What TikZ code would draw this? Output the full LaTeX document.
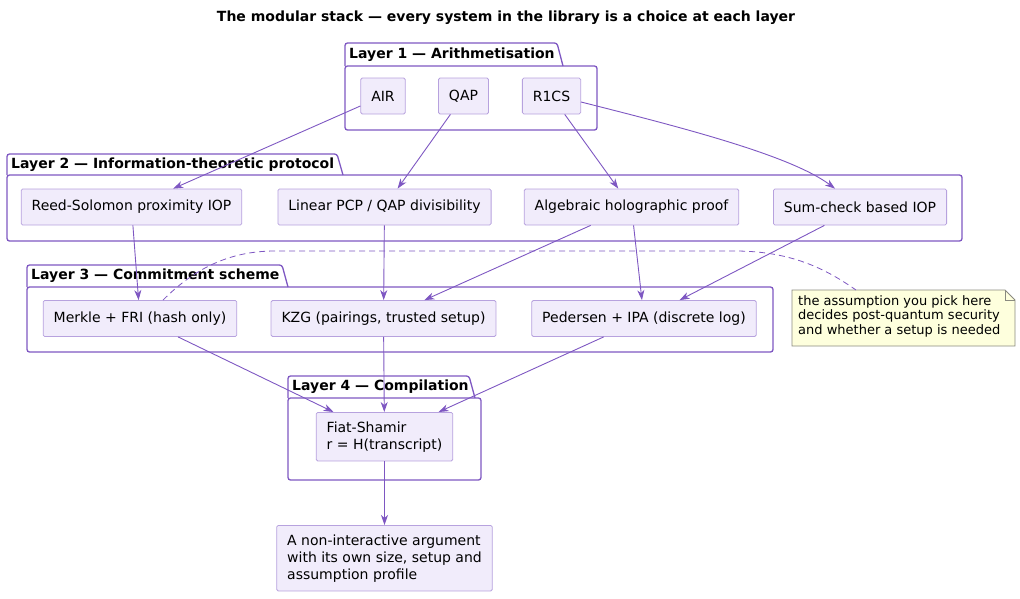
\documentclass[tikz,border=0pt]{standalone}
\usepackage{fontspec}
\setmainfont{DejaVu Sans}
\usetikzlibrary{arrows.meta}

\definecolor{stackpurple}{HTML}{7E57C2}
\definecolor{itemfill}{HTML}{F1ECFB}
\definecolor{itemborder}{HTML}{B7A2DE}
\definecolor{notefill}{HTML}{FEFFDD}
\definecolor{noteborder}{HTML}{8A8A80}

\begin{document}
\begin{tikzpicture}[x=1pt, y=-1pt, >={Stealth[length=10pt, width=7pt, inset=3pt]},
        item/.style={draw=itemborder, fill=itemfill, rounded corners=1.5pt, line width=0.8pt,
            font=\fontsize{14}{17}\selectfont, inner xsep=10.5pt, inner ysep=9pt, minimum height=36pt},
        layer/.style={draw=stackpurple, line width=1.3pt, rounded corners=2.5pt},
        layerlabel/.style={anchor=west, inner sep=0pt, font=\fontsize{14}{17}\selectfont\bfseries},
        flow/.style={->, draw=stackpurple, line width=0.9pt},
        notelink/.style={draw=stackpurple, line width=0.8pt, dash pattern=on 6pt off 4pt}]

        \useasboundingbox (0,0) rectangle (1020,598);

        \node[font=\fontsize{14}{17}\selectfont\bfseries] (title) at (506,18)
            {The modular stack — every system in the library is a choice at each layer};

        % Layer 1
        \draw[layer] (345,66) rectangle (597,130);
        \draw[layer] (345,66) -- (345,43) -- (557,43) -- (563,66);
        \node[layerlabel] (l1) at (349,54.5) {Layer 1 — Arithmetisation};

        % Layer 2
        \draw[layer] (7,175) rectangle (962,241);
        \draw[layer] (7,175) -- (7,154) -- (337,154) -- (343,175);
        \node[layerlabel] (l2) at (11,164.5) {Layer 2 — Information-theoretic protocol};

        % Layer 3
        \draw[layer] (27,287) rectangle (773,352);
        \draw[layer] (27,287) -- (27,265) -- (282,265) -- (288,287);
        \node[layerlabel] (l3) at (31,276) {Layer 3 — Commitment scheme};

        % Layer 4
        \draw[layer] (288,398) rectangle (481,480);
        \draw[layer] (288,398) -- (288,376) -- (469,376) -- (475,398);
        \node[layerlabel] (l4) at (292,387) {Layer 4 — Compilation};

        % items
        \node[item] (air) at (383,96) {AIR};
        \node[item] (qap) at (463.5,96) {QAP};
        \node[item] (r1cs) at (551.5,96) {R1CS};

        \node[item] (rs) at (131.5,207) {Reed-Solomon proximity IOP};
        \node[item] (lpcp) at (384.5,207) {Linear PCP / QAP divisibility};
        \node[item] (ahp) at (631.5,207) {Algebraic holographic proof};
        \node[item] (sumcheck) at (860,207) {Sum-check based IOP};

        \node[item] (merkle) at (140,318.5) {Merkle + FRI (hash only)};
        \node[item] (kzg) at (383.5,318.5) {KZG (pairings, trusted setup)};
        \node[item] (pedersen) at (644,318.5) {Pedersen + IPA (discrete log)};

        \node[item, align=left, anchor=north] (fs) at (384.5,412) {Fiat-Shamir\\r = H(transcript)};
        \node[item, align=left, anchor=north] (snark) at (384.5,525)
            {A non-interactive argument\\with its own size, setup and\\assumption profile};

        % note
        \filldraw[fill=notefill, draw=noteborder, line width=0.8pt]
            (792,290) -- (1005,290) -- (1015,300) -- (1015,346) -- (792,346) -- cycle;
        \draw[noteborder, line width=0.8pt] (1005,290) -- (1005,300) -- (1015,300);
        \node[anchor=north west, align=left, inner xsep=6pt, inner ysep=5pt,
            font=\fontsize{13}{14.6}\selectfont] (note) at (792,290)
            {the assumption you pick here\\decides post-quantum security\\and whether a setup is needed};

        % connectors
        \draw[flow] (air) -- (rs);
        \draw[flow] (qap) -- (lpcp);
        \draw[flow] (r1cs) -- (ahp);
        \draw[flow] ([yshift=-6pt]r1cs.east) .. controls (680,127) and (790,155) .. ([xshift=-25pt]sumcheck.north);
        \draw[flow] (rs) -- (merkle);
        \draw[flow] (lpcp) -- (kzg);
        \draw[flow] (ahp) -- (kzg);
        \draw[flow] (ahp) -- (pedersen);
        \draw[flow] (sumcheck) -- (pedersen);
        \draw[flow] (merkle) -- (fs);
        \draw[flow] (kzg) -- (fs);
        \draw[flow] (pedersen) -- (fs);
        \draw[flow] (fs) -- (snark);
        \draw[notelink] ([xshift=23pt]merkle.north) .. controls (195,268) and (230,251) .. (275,251)
            -- (735,251) .. controls (795,251) and (830,272) .. (856,290);
    \end{tikzpicture}
\end{document}
